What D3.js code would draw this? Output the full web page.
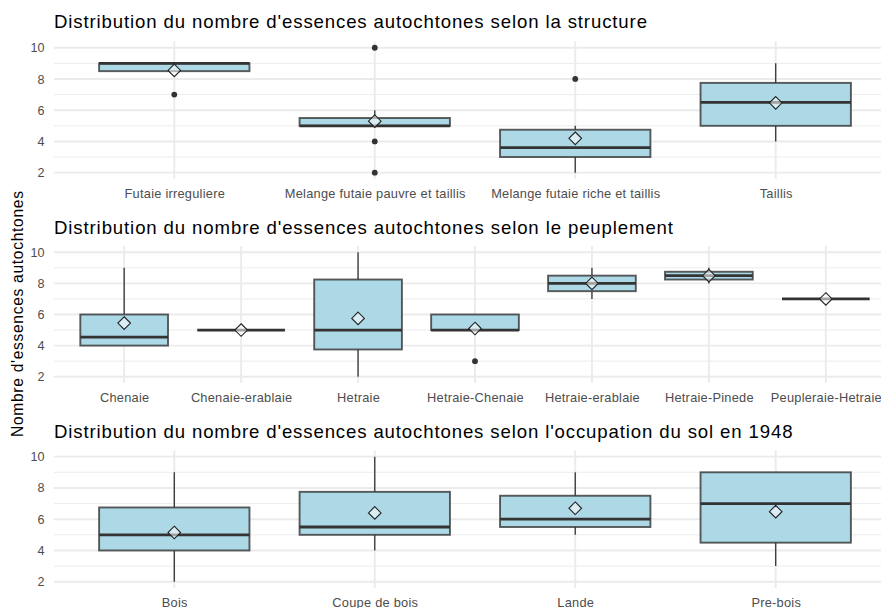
<!DOCTYPE html>
<html><head><meta charset="utf-8">
<script src="https://cdn.jsdelivr.net/npm/d3@7/dist/d3.min.js"></script>
<style>
body{margin:0;background:#fff;}
text{font-family:"Liberation Sans",Arial,sans-serif;}
</style>
</head><body>
<svg id="chart" width="881" height="608"></svg>
<script>
// ---- Data ----
const yTitle = "Nombre d'essences autochtones";
const yTicks = [2, 4, 6, 8, 10];
const yMinor = [3, 5, 7, 9];

const structTitle = "Distribution du nombre d'essences autochtones selon la structure";
const structCats = ["Futaie irreguliere", "Melange futaie pauvre et taillis", "Melange futaie riche et taillis", "Taillis"];
const structLow  = [8.5, 5, 2, 4];
const structQ1   = [8.5, 5, 3, 5];
const structMed  = [9, 5, 3.6, 6.5];
const structQ3   = [9, 5.5, 4.75, 7.75];
const structHigh = [9, 6, 5, 9];
const structMean = [8.55, 5.3, 4.2, 6.47];
const structOut  = [[7], [10, 4, 2], [8], []];

const peupTitle = "Distribution du nombre d'essences autochtones selon le peuplement";
const peupCats = ["Chenaie", "Chenaie-erablaie", "Hetraie", "Hetraie-Chenaie", "Hetraie-erablaie", "Hetraie-Pinede", "Peupleraie-Hetraie"];
const peupLow  = [4, 5, 2, 5, 7, 8, 7];
const peupQ1   = [4, 5, 3.75, 5, 7.5, 8.25, 7];
const peupMed  = [4.55, 5, 5, 5, 8, 8.5, 7];
const peupQ3   = [6, 5, 8.25, 6, 8.5, 8.75, 7];
const peupHigh = [9, 5, 10, 6, 9, 9, 7];
const peupMean = [5.45, 5, 5.75, 5.1, 8, 8.5, 7];
const peupOut  = [[], [], [], [3], [], [], []];

const solTitle = "Distribution du nombre d'essences autochtones selon l'occupation du sol en 1948";
const solCats = ["Bois", "Coupe de bois", "Lande", "Pre-bois"];
const solLow  = [2, 4, 5, 3];
const solQ1   = [4, 5, 5.5, 4.5];
const solMed  = [5, 5.5, 6, 7];
const solQ3   = [6.75, 7.75, 7.5, 9];
const solHigh = [9, 10, 9, 9];
const solMean = [5.15, 6.4, 6.7, 6.48];
const solOut  = [[], [], [], []];

// ---- Layout ----
const svg = d3.select("#chart");
const panelLeft = 54, panelRight = 896;
const panels = [
  {title: structTitle, tLen: 593, cats: structCats, low: structLow, q1: structQ1, med: structMed, q3: structQ3, high: structHigh, mean: structMean, out: structOut, top: 41.5, bottom: 178.9, titleY: 28.3},
  {title: peupTitle, tLen: 619, cats: peupCats, low: peupLow, q1: peupQ1, med: peupMed, q3: peupQ3, high: peupHigh, mean: peupMean, out: peupOut, top: 246.1, bottom: 382.9, titleY: 234},
  {title: solTitle, tLen: 738.5, cats: solCats, low: solLow, q1: solQ1, med: solMed, q3: solQ3, high: solHigh, mean: solMean, out: solOut, top: 450.4, bottom: 588, titleY: 438.3}
];

const gridCol = "#EBEBEB", lineCol = "#333333", fillCol = "#ADD8E6";
const fontFam = '"Liberation Sans",Arial,sans-serif';

panels.forEach(p => {
  const x = d3.scalePoint().domain(p.cats).range([panelLeft, panelRight]).padding(0.6);
  const y = d3.scaleLinear().domain([1.6, 10.4]).range([p.bottom, p.top]);
  const bw = x.step() * 0.75;
  const g = svg.append("g");

  // grid
  g.selectAll(".minor").data(yMinor).join("line")
    .attr("x1", panelLeft).attr("x2", panelRight)
    .attr("y1", d => y(d)).attr("y2", d => y(d))
    .attr("stroke", gridCol).attr("stroke-width", 0.95);
  g.selectAll(".major").data(yTicks).join("line")
    .attr("x1", panelLeft).attr("x2", panelRight)
    .attr("y1", d => y(d)).attr("y2", d => y(d))
    .attr("stroke", gridCol).attr("stroke-width", 1.9);
  g.selectAll(".vgrid").data(p.cats).join("line")
    .attr("x1", d => x(d)).attr("x2", d => x(d))
    .attr("y1", p.top).attr("y2", p.bottom)
    .attr("stroke", gridCol).attr("stroke-width", 1.9);

  // axes
  const ya = g.append("g").attr("transform", `translate(${panelLeft},0)`)
    .call(d3.axisLeft(y).tickValues(yTicks).tickSize(0).tickPadding(9.5));
  ya.select(".domain").remove();
  ya.selectAll("text").attr("fill", "#4D4D4D").style("font-size", "12.6px")
    .style("font-family", fontFam);

  const xa = g.append("g").attr("transform", `translate(0,${p.bottom})`)
    .call(d3.axisBottom(x).tickSize(0).tickPadding(9.8));
  xa.select(".domain").remove();
  xa.selectAll("text").attr("fill", "#4D4D4D").style("font-size", "12.8px")
    .style("letter-spacing", "0.25px")
    .style("font-family", fontFam);

  // title
  g.append("text").attr("x", panelLeft).attr("y", p.titleY)
    .attr("textLength", p.tLen).attr("lengthAdjust", "spacing")
    .attr("fill", "#000").style("font-size", "18.6px").text(p.title);

  const idx = d3.range(p.cats.length);
  // whiskers
  g.selectAll(".wu").data(idx).join("line")
    .attr("x1", i => x(p.cats[i])).attr("x2", i => x(p.cats[i]))
    .attr("y1", i => y(p.q3[i])).attr("y2", i => y(p.high[i]))
    .attr("stroke", lineCol).attr("stroke-width", 1.3);
  g.selectAll(".wl").data(idx).join("line")
    .attr("x1", i => x(p.cats[i])).attr("x2", i => x(p.cats[i]))
    .attr("y1", i => y(p.q1[i])).attr("y2", i => y(p.low[i]))
    .attr("stroke", lineCol).attr("stroke-width", 1.3);
  // boxes
  g.selectAll(".box").data(idx).join("rect")
    .attr("x", i => x(p.cats[i]) - bw / 2).attr("width", bw)
    .attr("y", i => y(p.q3[i])).attr("height", i => y(p.q1[i]) - y(p.q3[i]))
    .attr("fill", fillCol).attr("stroke", lineCol).attr("stroke-opacity", 0.8).attr("stroke-width", 1.9);
  // medians
  g.selectAll(".med").data(idx).join("line")
    .attr("x1", i => x(p.cats[i]) - bw / 2).attr("x2", i => x(p.cats[i]) + bw / 2)
    .attr("y1", i => y(p.med[i])).attr("y2", i => y(p.med[i]))
    .attr("stroke", lineCol).attr("stroke-width", 2.8);
  // outliers
  const outs = [];
  p.out.forEach((arr, i) => arr.forEach(v => outs.push({c: p.cats[i], v})));
  g.selectAll(".out").data(outs).join("circle")
    .attr("cx", d => x(d.c)).attr("cy", d => y(d.v)).attr("r", 2.9)
    .attr("fill", lineCol);
  // means (diamond)
  const s = 6.3;
  g.selectAll(".mean").data(idx).join("path")
    .attr("d", i => {
      const cx = x(p.cats[i]), cy = y(p.mean[i]);
      return `M${cx},${cy - s}L${cx + s},${cy}L${cx},${cy + s}L${cx - s},${cy}Z`;
    })
    .attr("fill", "#fff").attr("fill-opacity", 0.55)
    .attr("stroke", "#222").attr("stroke-width", 1.1);
});

// y axis title
svg.append("text")
  .attr("transform", "translate(23,314) rotate(-90)")
  .attr("text-anchor", "middle").attr("fill", "#000")
  .attr("textLength", 246).attr("lengthAdjust", "spacing")
  .style("font-size", "15.6px").text(yTitle);
</script>
</body></html>
